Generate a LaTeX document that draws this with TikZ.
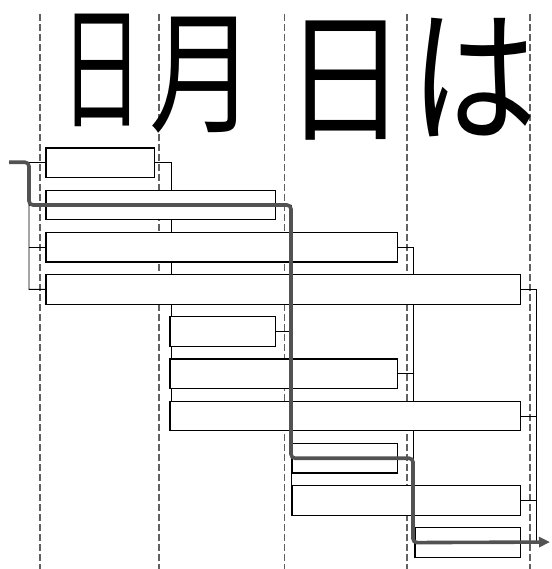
\documentclass[tikz,border=0pt]{standalone}
\usepackage{fontspec}
\newfontfamily\cjk{Noto Sans CJK JP}
\usetikzlibrary{arrows.meta}
\begin{document}
\begin{tikzpicture}[x=1pt,y=-1pt,
  guide/.style={draw=black!62, line width=1.5pt, dash pattern=on 7pt off 3pt},
  seg/.style={draw=black, line width=1.1pt, fill=white, minimum height=28.5pt, inner sep=0pt, anchor=north west},
  conn/.style={draw=black, line width=0.9pt},
  best/.style={draw=black!68, line width=3.6pt, rounded corners=4pt},
  glyph/.style={font=\cjk\fontsize{100}{100}\selectfont, inner sep=0pt}]
\useasboundingbox (0,0) rectangle (551,569);
% guide lines
\foreach \gx/\gn in {40/g0,159/g1,284.5/g2,407/g3,530/g4}{
  \coordinate (\gn t) at (\gx,14);
  \coordinate (\gn b) at (\gx,569);
  \draw[guide] (\gn t) -- (\gn b);
}
% handwritten characters
\node[glyph] (c1) at (102,70) {\scalebox{0.83}[1.34]{日}};
\node[glyph] (c2) at (202,75) {\scalebox{1.06}[1.34]{月}};
\node[glyph] (c3) at (345,81) {\scalebox{1.22}[1.42]{日}};
\node[glyph] (c4) at (474,78) {\scalebox{1.27}[1.47]{は}};
% junction columns
\coordinate (v0) at (29,0);
\coordinate (v1) at (171,0);
\coordinate (v2) at (291,0);
\coordinate (v3) at (413,0);
\coordinate (v4) at (536,0);
% segment boxes (geometry first, drawn later)
\path
  (46,148)    node[seg, minimum width=107pt, draw=none, fill=none] (b1) {}
  (46,190.2)  node[seg, minimum width=228pt, draw=none, fill=none] (b2) {}
  (46,232.4)  node[seg, minimum width=350pt, draw=none, fill=none] (b3) {}
  (46,274.6)  node[seg, minimum width=473pt, draw=none, fill=none] (b4) {}
  (170,316.8) node[seg, minimum width=104pt, draw=none, fill=none] (b5) {}
  (170,359)   node[seg, minimum width=226pt, draw=none, fill=none] (b6) {}
  (170,401.2) node[seg, minimum width=349pt, draw=none, fill=none] (b7) {}
  (292,443.4) node[seg, minimum width=104pt, draw=none, fill=none] (b8) {}
  (292,485.6) node[seg, minimum width=227pt, draw=none, fill=none] (b9) {}
  (415,527.8) node[seg, minimum width=104pt, draw=none, fill=none] (b10) {};
\coordinate (s) at (9,162.25);
\coordinate (t) at (550,542.05);
% connectors
\draw[conn] (s) -- (b1.west -| v0) -- (b4.west -| v0) -- (b4.west);
\draw[conn] (b1.west -| v0) -- (b1.west);
\draw[conn] (b2.west -| v0) -- (b2.west);
\draw[conn] (b3.west -| v0) -- (b3.west);
\draw[conn] (b1.east) -- (b1.east -| v1) -- (b7.west -| v1);
\draw[conn] (b2.east) -- (b2.east -| v2) -- (b9.west -| v2);
\draw[conn] (b5.east) -- (b5.east -| v2);
\draw[conn] (b3.east) -- (b3.east -| v3) -- (b10.west -| v3);
\draw[conn] (b6.east) -- (b6.east -| v3);
\draw[conn] (b8.east) -- (b8.east -| v3);
\draw[conn] (b4.east) -- (b4.east -| v4) -- (b10.east -| v4);
\draw[conn] (b7.east) -- (b7.east -| v4);
\draw[conn] (b9.east) -- (b9.east -| v4);
\draw[conn] (b10.east) -- (b10.east -| v4);
% boxes
\foreach \b in {b1,b2,b3,b4,b5,b6,b7,b8,b9,b10}{
  \draw[draw=black, line width=1.1pt, fill=white] (\b.north west) rectangle (\b.south east);
}
% best path
\draw[best, -{Triangle[length=11pt,width=10pt]}] (s) -- (s -| v0) -- (b2.west -| v0) -- (b2.east -| v2) -- (b8.west -| v2) -- (b8.east -| v3) -- (b10.west -| v3) -- (t);
\end{tikzpicture}
\end{document}
